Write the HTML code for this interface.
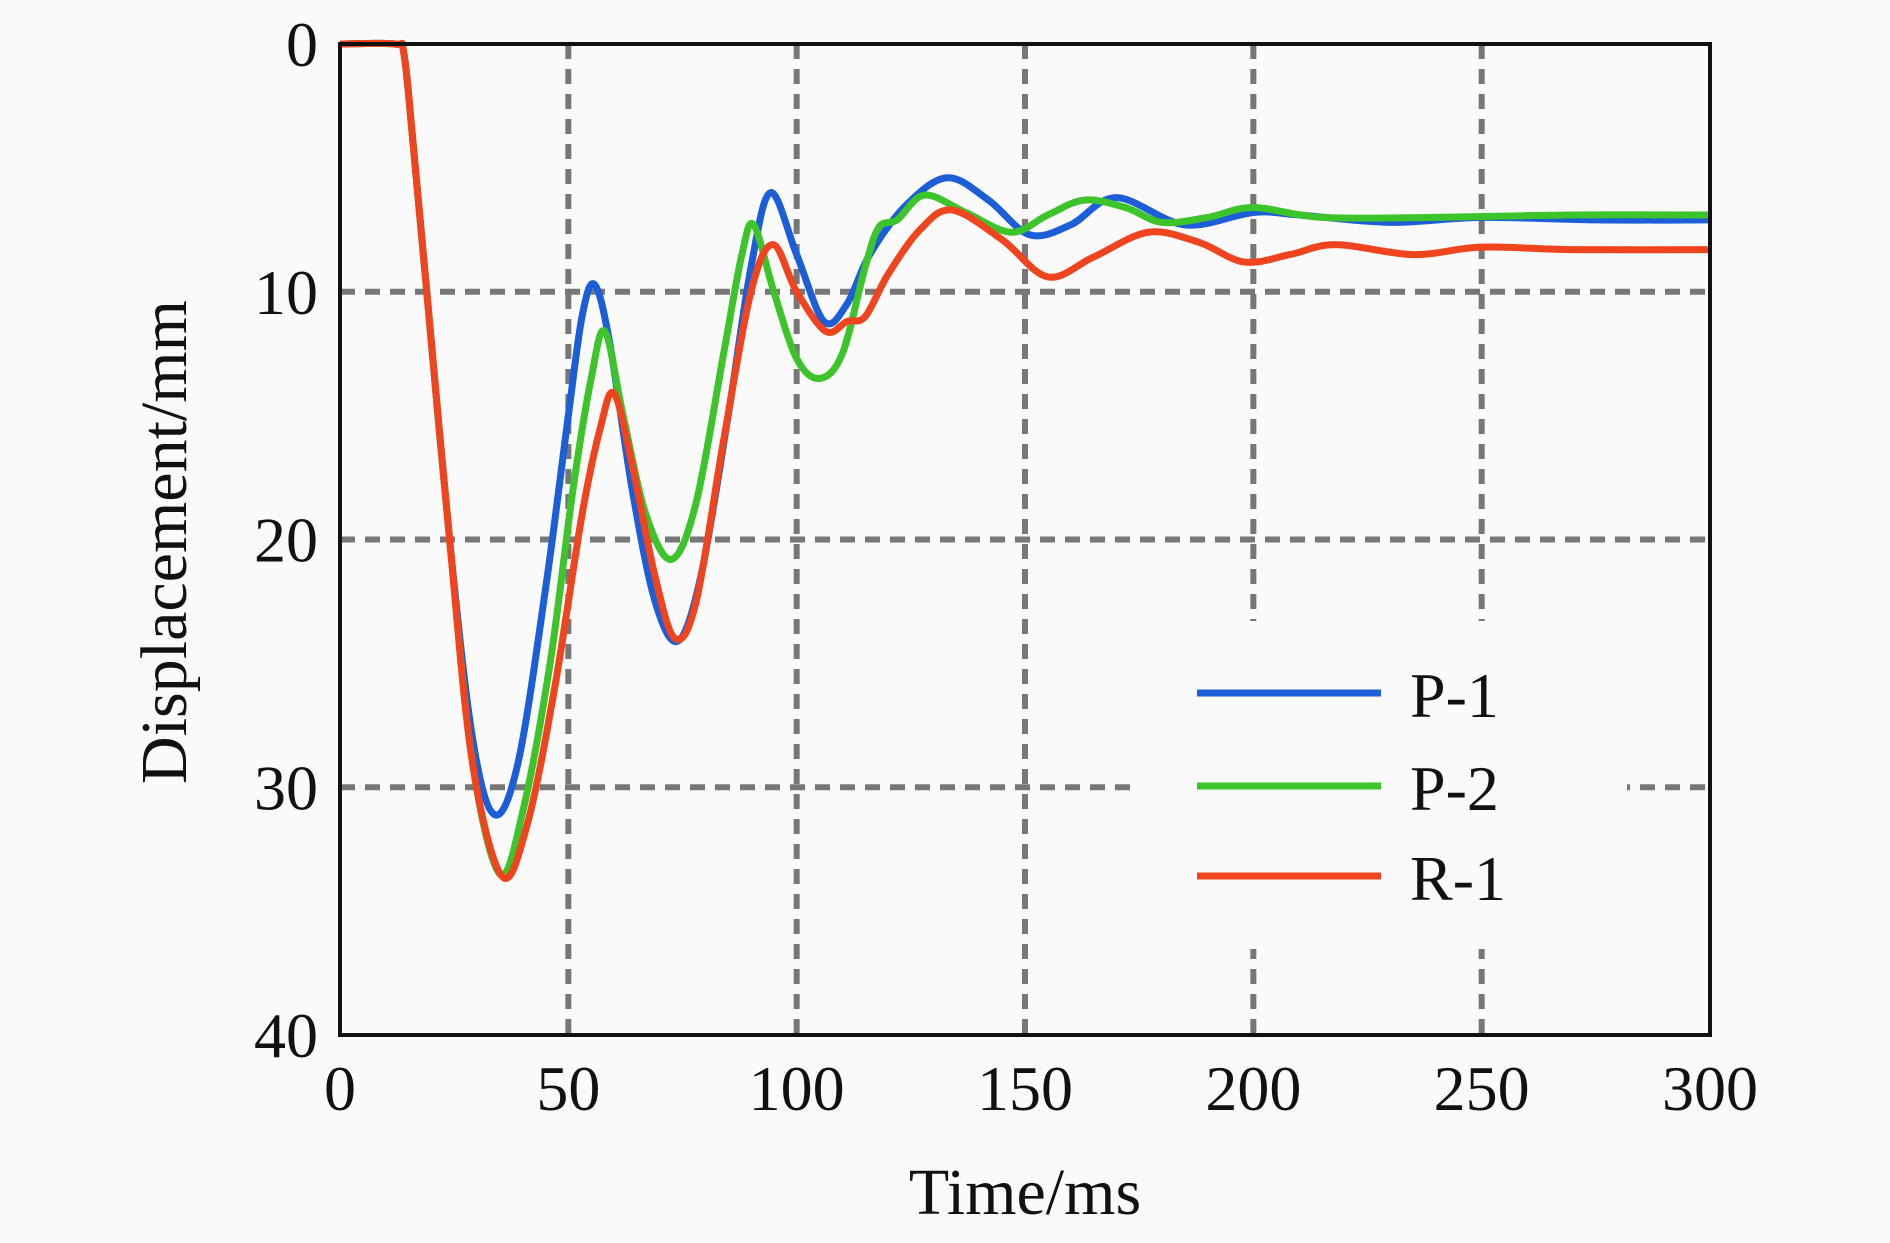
<!DOCTYPE html>
<html><head><meta charset="utf-8"><style>
html,body{margin:0;padding:0;background:#fafafa;}
svg{display:block;}
text{font-family:"Liberation Serif",serif;fill:#111;}
</style></head><body>
<svg id="chart" width="1890" height="1243" viewBox="0 0 1890 1243" xmlns="http://www.w3.org/2000/svg">
<rect width="1890" height="1243" fill="#fafafa"/>
<g id="grid"></g>
<rect x="1139" y="621" width="488" height="328" fill="#fafafa"/>
<g id="series"></g>
<rect x="340" y="44" width="1370" height="991" fill="none" stroke="#111" stroke-width="4"/>
<g id="ticks"></g>
<text x="1025" y="1214" font-size="66" text-anchor="middle">Time/ms</text>
<text x="0" y="0" font-size="66" text-anchor="middle" transform="translate(186,542) rotate(-90)">Displacement/mm</text>
<g id="legend"></g>
</svg>
<script>
const xTicks = [0, 50, 100, 150, 200, 250, 300];
const yTicks = [0, 10, 20, 30, 40];
const seriesNames = ["P-1", "P-2", "R-1"];
const p1T = [0, 12, 14, 16, 19, 24, 29, 33.8, 39, 45, 50, 53, 55.7, 59, 64, 69, 74, 79, 85, 90, 94.3, 100, 106, 111, 116, 124, 133, 142, 151, 160, 170, 185, 200, 210, 230, 250, 275, 300];
const p1Y = [0, 0, 0.4, 4, 10, 20, 28, 31.1, 29, 22, 15, 11, 9.7, 12, 18, 22.5, 24.1, 21.5, 15, 9, 6.0, 8.5, 11.2, 10.5, 8.5, 6.5, 5.4, 6.3, 7.7, 7.3, 6.2, 7.3, 6.8, 6.9, 7.2, 7.0, 7.1, 7.1];
const p2T = [0, 12, 14, 16, 19, 24, 29, 35, 40, 46, 51, 55, 58, 62, 67, 72.6, 78, 84, 88, 90.6, 95, 100, 105, 110, 115, 118, 122, 128, 137, 147, 155, 163, 172, 180, 190, 200, 215, 240, 270, 300];
const p2Y = [0, 0, 0.4, 4, 10, 20, 29, 33.5, 31, 25, 18, 13.5, 11.6, 15, 19, 20.8, 18.5, 12.5, 8.5, 7.3, 10, 12.7, 13.5, 12.5, 9, 7.4, 7.1, 6.1, 6.8, 7.6, 6.9, 6.3, 6.6, 7.2, 7.0, 6.6, 7.0, 7.0, 6.9, 6.9];
const r1T = [0, 12, 14, 16, 19, 24, 29, 35.5, 41, 47, 53, 57, 60, 64, 69, 73.4, 78, 84, 90, 94.8, 100, 106.4, 111, 115, 120, 127, 134, 145, 155, 165, 177, 188, 198, 208, 218, 235, 250, 270, 300];
const r1Y = [0, 0, 0.4, 4, 10, 20, 29, 33.6, 31.5, 26, 19, 15.5, 14.1, 17, 21.5, 24.0, 22.5, 16, 10, 8.1, 10, 11.6, 11.2, 11.0, 9.3, 7.5, 6.7, 7.9, 9.4, 8.6, 7.6, 8.0, 8.8, 8.5, 8.1, 8.5, 8.2, 8.3, 8.3];
const colors = ["#1b5ed8", "#3dc42a", "#f0441f"];

const X0 = 340, X1 = 1710, Y0 = 44, Y1 = 1035;
function xs(t) { return X0 + (t - 0) / 300 * (X1 - X0); }
function ys(v) { return Y0 + v / 40 * (Y1 - Y0); }
const NS = "http://www.w3.org/2000/svg";

const grid = document.getElementById("grid");
xTicks.slice(1, -1).forEach(t => {
  const l = document.createElementNS(NS, "line");
  
  
  l.setAttribute("x1", xs(t)); l.setAttribute("x2", xs(t));
  l.setAttribute("y1", Y0); l.setAttribute("y2", Y1);
  l.setAttribute("stroke", "#777"); l.setAttribute("stroke-width", "6");
  l.setAttribute("stroke-dasharray", "15 10");
  grid.appendChild(l);
});
yTicks.slice(1, -1).forEach(v => {
  const l = document.createElementNS(NS, "line");
  
  
  l.setAttribute("x1", X0); l.setAttribute("x2", X1);
  l.setAttribute("y1", ys(v)); l.setAttribute("y2", ys(v));
  l.setAttribute("stroke", "#777"); l.setAttribute("stroke-width", "6");
  l.setAttribute("stroke-dasharray", "15 10");
  grid.appendChild(l);
});

function pathFrom(T, Y) {
  const p = T.map((t, i) => [xs(t), ys(Y[i])]);
  let d = "M" + p[0][0] + "," + p[0][1];
  for (let i = 0; i < p.length - 1; i++) {
    const a = p[Math.max(0, i - 1)], b = p[i], c = p[i + 1], e = p[Math.min(p.length - 1, i + 2)];
    const c1x = b[0] + (c[0] - a[0]) / 6, c1y = b[1] + (c[1] - a[1]) / 6;
    const c2x = c[0] - (e[0] - b[0]) / 6, c2y = c[1] - (e[1] - b[1]) / 6;
    d += " C" + c1x + "," + c1y + " " + c2x + "," + c2y + " " + c[0] + "," + c[1];
  }
  return d;
}
const sg = document.getElementById("series");
const data = [[p1T, p1Y], [p2T, p2Y], [r1T, r1Y]];
const seriesIds = ["p1-line", "p2-line", "r1-line"];
data.forEach((s, i) => {
  const path = document.createElementNS(NS, "path");
  
  
  path.setAttribute("d", pathFrom(s[0], s[1]));
  path.setAttribute("fill", "none");
  path.setAttribute("stroke", colors[i]);
  path.setAttribute("stroke-width", "7");
  path.setAttribute("stroke-linejoin", "round");
  sg.appendChild(path);
});

const tk = document.getElementById("ticks");
xTicks.forEach(t => {
  const tx = document.createElementNS(NS, "text");
  
  
  tx.setAttribute("x", xs(t)); tx.setAttribute("y", 1110);
  tx.setAttribute("font-size", "64"); tx.setAttribute("text-anchor", "middle");
  tx.textContent = t;
  tk.appendChild(tx);
});
yTicks.forEach(v => {
  const tx = document.createElementNS(NS, "text");
  
  
  tx.setAttribute("x", 318); tx.setAttribute("y", ys(v) + 22);
  tx.setAttribute("font-size", "64"); tx.setAttribute("text-anchor", "end");
  tx.textContent = v;
  tk.appendChild(tx);
});

const lg = document.getElementById("legend");
const legendY = [693, 786, 876];
seriesNames.forEach((n, i) => {
  const l = document.createElementNS(NS, "line");
  
  
  l.setAttribute("x1", 1197); l.setAttribute("x2", 1381);
  l.setAttribute("y1", legendY[i]); l.setAttribute("y2", legendY[i]);
  l.setAttribute("stroke", colors[i]); l.setAttribute("stroke-width", "7");
  lg.appendChild(l);
  const tx = document.createElementNS(NS, "text");
  
  
  tx.setAttribute("x", 1410); tx.setAttribute("y", legendY[i] + 24);
  tx.setAttribute("font-size", "64");
  tx.textContent = n;
  lg.appendChild(tx);
});
</script>
</body></html>
